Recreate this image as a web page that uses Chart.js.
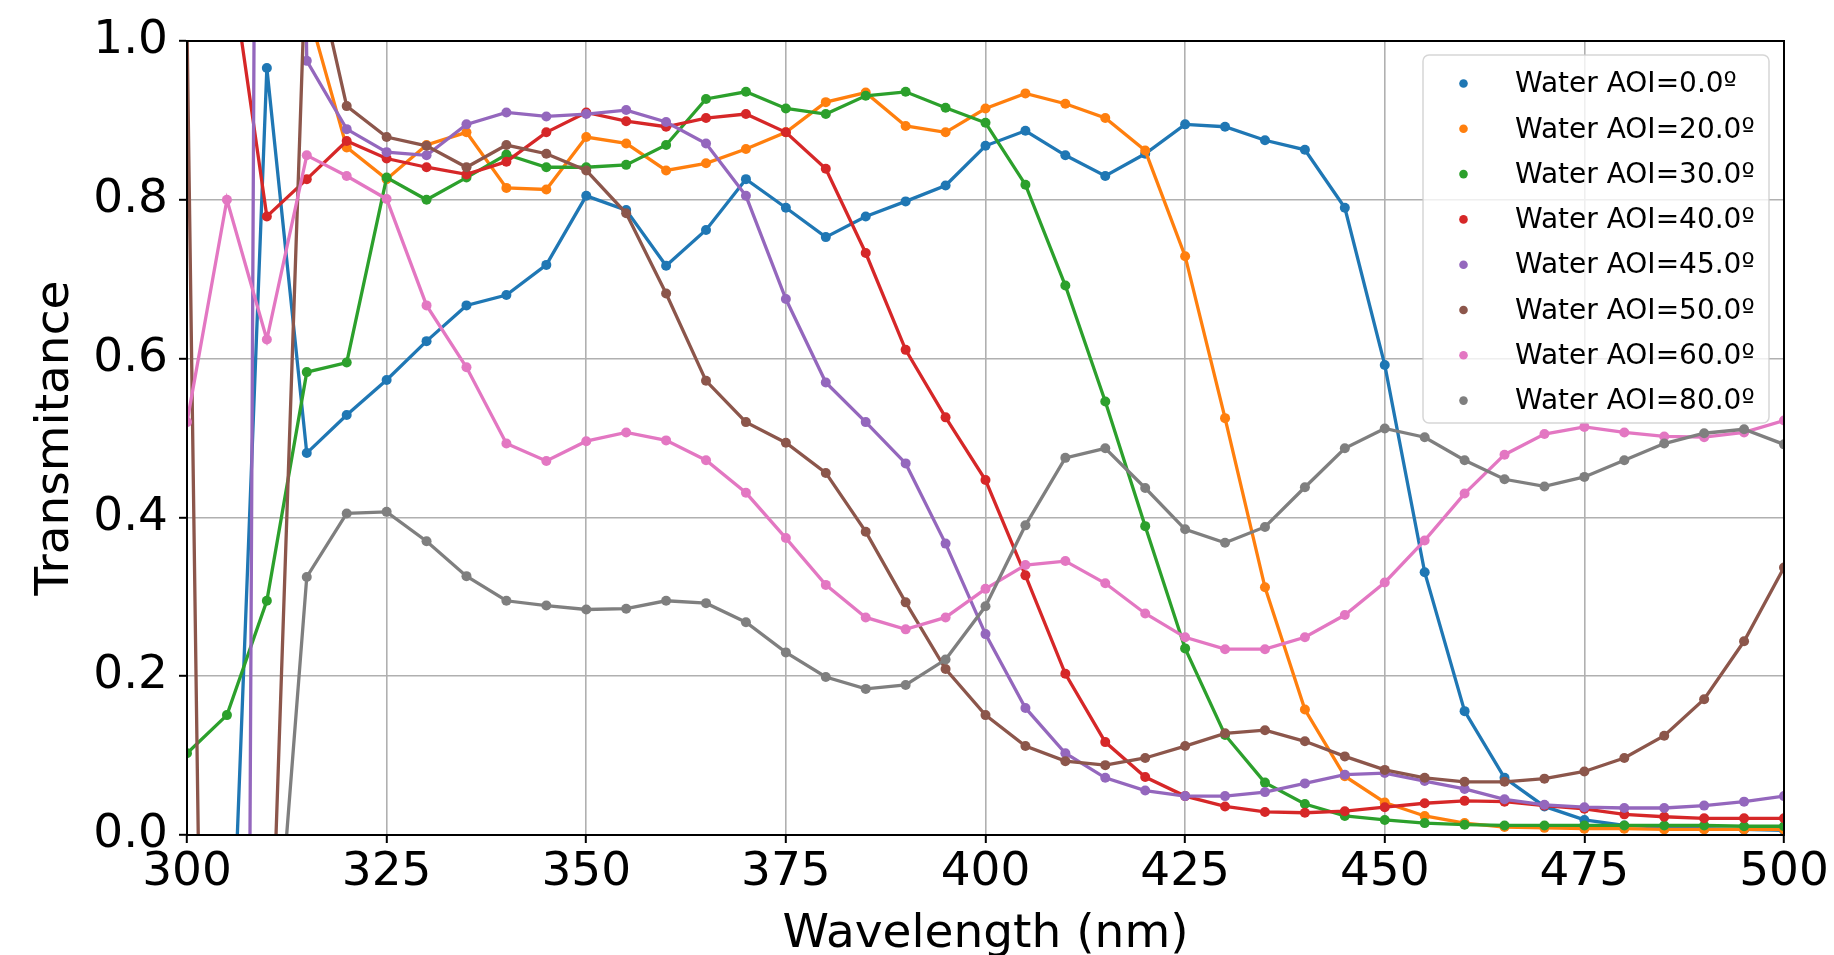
<!DOCTYPE html>
<html>
<head>
<meta charset="utf-8">
<title>Transmitance vs wavelength</title>
<script src="https://cdn.jsdelivr.net/npm/chart.js@4.4.1/dist/chart.umd.min.js"></script>
<style>
  html, body { margin: 0; padding: 0; background: #fff; }
  #wrap { width: 1834px; height: 955px; }
</style>
</head>
<body>
<div id="wrap"><canvas id="chart" width="1834" height="955"></canvas></div>
<script>
// wavelength grid (nm)
const wavelengths = [300, 305, 310, 315, 320, 325, 330, 335, 340, 345,
                     350, 355, 360, 365, 370, 375, 380, 385, 390, 395,
                     400, 405, 410, 415, 420, 425, 430, 435, 440, 445,
                     450, 455, 460, 465, 470, 475, 480, 485, 490, 495, 500];

// transmitance per angle of incidence (values outside 0..1 get clipped, as in the original)
const aoi0  = [-1.0, -0.34, 0.966, 0.481, 0.529, 0.573, 0.622, 0.667, 0.680, 0.718,
               0.805, 0.787, 0.717, 0.762, 0.826, 0.790, 0.753, 0.779, 0.798, 0.818,
               0.868, 0.887, 0.856, 0.830, 0.858, 0.895, 0.892, 0.875, 0.863, 0.790,
               0.592, 0.331, 0.156, 0.072, 0.036, 0.019, 0.012, 0.010, 0.008, 0.007, 0.006];
const aoi20 = [1.40, 1.60, 1.30, 1.045, 0.866, 0.826, 0.869, 0.885, 0.815, 0.813,
               0.879, 0.871, 0.837, 0.846, 0.864, 0.885, 0.923, 0.935, 0.893, 0.885,
               0.915, 0.934, 0.921, 0.903, 0.862, 0.729, 0.525, 0.312, 0.158, 0.074,
               0.041, 0.024, 0.015, 0.010, 0.009, 0.008, 0.008, 0.007, 0.007, 0.007, 0.007];
const aoi30 = [0.103, 0.151, 0.295, 0.583, 0.595, 0.828, 0.800, 0.828, 0.857, 0.841,
               0.841, 0.844, 0.869, 0.927, 0.936, 0.915, 0.908, 0.931, 0.936, 0.916,
               0.897, 0.819, 0.692, 0.546, 0.389, 0.235, 0.126, 0.066, 0.039, 0.024,
               0.019, 0.015, 0.013, 0.012, 0.012, 0.012, 0.012, 0.012, 0.012, 0.011, 0.011];
const aoi40 = [1.30, 1.13, 0.779, 0.826, 0.874, 0.852, 0.841, 0.832, 0.848, 0.885,
               0.910, 0.899, 0.892, 0.903, 0.908, 0.885, 0.839, 0.733, 0.611, 0.526,
               0.447, 0.327, 0.203, 0.117, 0.073, 0.049, 0.036, 0.029, 0.028, 0.030,
               0.035, 0.040, 0.043, 0.042, 0.037, 0.033, 0.026, 0.023, 0.021, 0.021, 0.021];
const aoi45 = [-3.0, -5.75, 4.2, 0.975, 0.889, 0.860, 0.856, 0.895, 0.910, 0.905,
               0.908, 0.913, 0.898, 0.871, 0.805, 0.675, 0.570, 0.520, 0.468, 0.367,
               0.253, 0.160, 0.103, 0.072, 0.056, 0.049, 0.049, 0.054, 0.065, 0.076,
               0.078, 0.068, 0.058, 0.045, 0.038, 0.035, 0.034, 0.034, 0.037, 0.042, 0.049];
const aoi50 = [1.02, -2.6, -0.34, 1.14, 0.918, 0.879, 0.868, 0.841, 0.869, 0.858,
               0.837, 0.783, 0.682, 0.572, 0.520, 0.494, 0.456, 0.382, 0.293, 0.209,
               0.151, 0.112, 0.093, 0.088, 0.097, 0.112, 0.128, 0.132, 0.118, 0.099,
               0.082, 0.072, 0.067, 0.067, 0.071, 0.080, 0.097, 0.125, 0.171, 0.244, 0.337];
const aoi60 = [0.520, 0.800, 0.624, 0.856, 0.830, 0.801, 0.667, 0.589, 0.493, 0.471,
               0.496, 0.507, 0.497, 0.472, 0.431, 0.374, 0.315, 0.274, 0.259, 0.274,
               0.310, 0.340, 0.345, 0.317, 0.279, 0.249, 0.234, 0.234, 0.249, 0.277,
               0.318, 0.371, 0.430, 0.479, 0.505, 0.514, 0.507, 0.502, 0.501, 0.507, 0.522];
const aoi80 = [-2.0, -1.5, -0.32, 0.325, 0.405, 0.407, 0.370, 0.326, 0.295, 0.289,
               0.284, 0.285, 0.295, 0.292, 0.268, 0.230, 0.199, 0.184, 0.189, 0.221,
               0.288, 0.390, 0.475, 0.487, 0.437, 0.385, 0.368, 0.388, 0.438, 0.487,
               0.512, 0.501, 0.472, 0.448, 0.439, 0.451, 0.472, 0.493, 0.506, 0.511, 0.492];

const seriesLabels = ['Water AOI=0.0º', 'Water AOI=20.0º', 'Water AOI=30.0º', 'Water AOI=40.0º',
                      'Water AOI=45.0º', 'Water AOI=50.0º', 'Water AOI=60.0º', 'Water AOI=80.0º'];
const seriesColors = ['#1f77b4', '#ff7f0e', '#2ca02c', '#d62728', '#9467bd', '#8c564b', '#e377c2', '#7f7f7f'];
const seriesData = [aoi0, aoi20, aoi30, aoi40, aoi45, aoi50, aoi60, aoi80];

const xTicks = [300, 325, 350, 375, 400, 425, 450, 475, 500];
const yTicks = [0, 0.2, 0.4, 0.6, 0.8, 1.0];
const yTickLabels = ['0.0', '0.2', '0.4', '0.6', '0.8', '1.0'];

const FONT = 'DejaVu Sans';

// top and right spines, like matplotlib's box
const framePlugin = {
    id: 'frame',
    afterDatasetsDraw(chart) {
        const { ctx, chartArea: a } = chart;
        ctx.save();
        ctx.strokeStyle = '#000';
        ctx.lineWidth = 2;
        ctx.strokeRect(a.left, a.top, a.right - a.left, a.bottom - a.top);
        ctx.restore();
    }
};

// legend drawn inside the plot, upper right
const insideLegend = {
    id: 'insideLegend',
    afterDraw(chart) {
        const { ctx, chartArea: a } = chart;
        const w = 346, h = 368;
        const x = a.right - 15 - w;
        const y = a.top + 14;
        ctx.save();
        ctx.beginPath();
        ctx.roundRect(x, y, w, h, 6);
        ctx.fillStyle = 'rgba(255,255,255,0.8)';
        ctx.fill();
        ctx.strokeStyle = 'rgba(204,204,204,0.8)';
        ctx.lineWidth = 1.5;
        ctx.stroke();

        ctx.font = '28px "' + FONT + '"';
        ctx.textBaseline = 'middle';
        ctx.textAlign = 'left';
        chart.data.datasets.forEach((ds, i) => {
            const rowY = y + 28.5 + i * 45.3;
            ctx.beginPath();
            ctx.arc(x + 40.5, rowY, 4.3, 0, Math.PI * 2);
            ctx.fillStyle = ds.borderColor;
            ctx.fill();
            ctx.fillStyle = '#000';
            ctx.fillText(ds.label, x + 92, rowY + 1.5);
        });
        ctx.restore();
    }
};

const ctx = document.getElementById('chart');
new Chart(ctx, {
    type: 'line',
    data: {
        datasets: seriesData.map((vals, i) => ({
            label: seriesLabels[i],
            data: vals.map((v, j) => ({ x: wavelengths[j], y: v })),
            borderColor: seriesColors[i],
            backgroundColor: seriesColors[i],
            pointBackgroundColor: seriesColors[i],
            borderWidth: 3.3,
            pointRadius: 5,
            pointBorderWidth: 0,
            tension: 0,
            order: seriesData.length - i
        }))
    },
    options: {
        responsive: false,
        animation: false,
        devicePixelRatio: 1,
        layout: { padding: { left: 0, top: 41, right: 50, bottom: 0 } },
        plugins: { legend: { display: false }, tooltip: { enabled: false } },
        scales: {
            x: {
                type: 'linear',
                min: 300,
                max: 500,
                afterBuildTicks: s => { s.ticks = xTicks.map(v => ({ value: v })); },
                afterFit: s => { s.height = 120; },
                ticks: {
                    font: { family: FONT, size: 47 },
                    color: '#000',
                    padding: 2,
                    maxRotation: 0,
                    autoSkip: false,
                    callback: v => String(v)
                },
                grid: { color: '#b0b0b0', lineWidth: 1.6, tickLength: 8, tickColor: '#000', tickWidth: 2 },
                border: { display: true, color: '#000', width: 2 },
                title: {
                    display: true,
                    text: 'Wavelength (nm)',
                    font: { family: FONT, size: 47 },
                    color: '#000',
                    padding: { top: 0, bottom: -7.5 }
                }
            },
            y: {
                type: 'linear',
                min: 0,
                max: 1,
                afterBuildTicks: s => { s.ticks = yTicks.map(v => ({ value: v })); },
                afterFit: s => { s.width = 187; },
                ticks: {
                    font: { family: FONT, size: 47 },
                    color: '#000',
                    padding: 11,
                    callback: v => yTickLabels[yTicks.indexOf(v)]
                },
                grid: { color: '#b0b0b0', lineWidth: 1.6, tickLength: 8, tickColor: '#000', tickWidth: 2 },
                border: { display: true, color: '#000', width: 2 },
                title: {
                    display: true,
                    text: 'Transmitance',
                    font: { family: FONT, size: 47 },
                    color: '#000',
                    padding: { top: 27.5, bottom: 0 }
                }
            }
        }
    },
    plugins: [framePlugin, insideLegend]
});
</script>
</body>
</html>
